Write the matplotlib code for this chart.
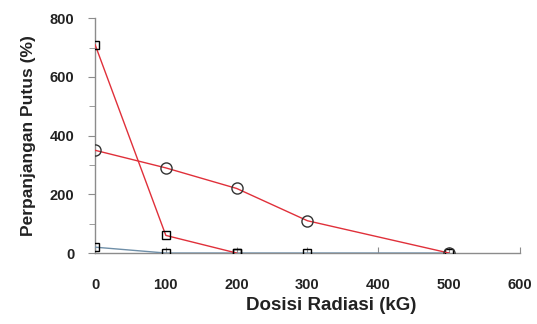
import matplotlib.pyplot as plt
from matplotlib.ticker import MultipleLocator

plt.rcParams['font.family'] = ['Liberation Sans', 'DejaVu Sans']

# data
dose_sq = [0, 100, 200]
elong_sq = [710, 60, 0]
dose_circ = [0, 100, 200, 300, 500]
elong_circ = [350, 290, 220, 110, 0]
dose_blue = [0, 100, 200, 300, 500]
elong_blue = [20, 0, 0, 0, 0]

xticks = [0, 100, 200, 300, 400, 500, 600]
yticks = [0, 200, 400, 600, 800]

fig = plt.figure(figsize=(5.37, 3.24), dpi=100)
ax = fig.add_axes([0.177, 0.219, 0.791, 0.725])

grey = '#8c8c8c'
ax.plot(dose_blue, elong_blue, color='#6f8fa8', lw=1.0, marker='s', ms=6,
        mfc='none', mec='black', mew=1.0, zorder=3)
ax.plot(dose_sq, elong_sq, color='#e0303a', lw=1.0, marker='s', ms=6,
        mfc='none', mec='black', mew=1.0, zorder=4)
ax.plot(dose_circ, elong_circ, color='#e0303a', lw=1.0, marker='o', ms=8,
        mfc='none', mec='#333333', mew=1.0, zorder=4)

ax.set_xlim(0, 600)
ax.set_ylim(0, 800)
ax.set_xticks(xticks)
ax.set_yticks(yticks)
ax.yaxis.set_minor_locator(MultipleLocator(100))

for s in ['top', 'right']:
    ax.spines[s].set_visible(False)
for s in ['left', 'bottom']:
    ax.spines[s].set_color(grey)
    ax.spines[s].set_linewidth(1.0)

ax.tick_params(axis='y', which='major', length=5, color=grey, pad=10)
ax.tick_params(axis='y', which='minor', length=4, color=grey)
ax.tick_params(axis='x', which='major', length=4, direction='in', color=grey, pad=18)
for lab in ax.get_xticklabels() + ax.get_yticklabels():
    lab.set_fontweight('bold')
    lab.set_fontsize(10.5)
    lab.set_color('#222222')

ax.set_xlabel('Dosisi Radiasi (kG)', fontsize=13.5, fontweight='bold', color='#222222')
ax.xaxis.set_label_coords(0.555, -0.185)
ax.set_ylabel('Perpanjangan Putus (%)', fontsize=12.5, fontweight='bold', labelpad=10, color='#222222')

fig.savefig('out.png', dpi=100)
